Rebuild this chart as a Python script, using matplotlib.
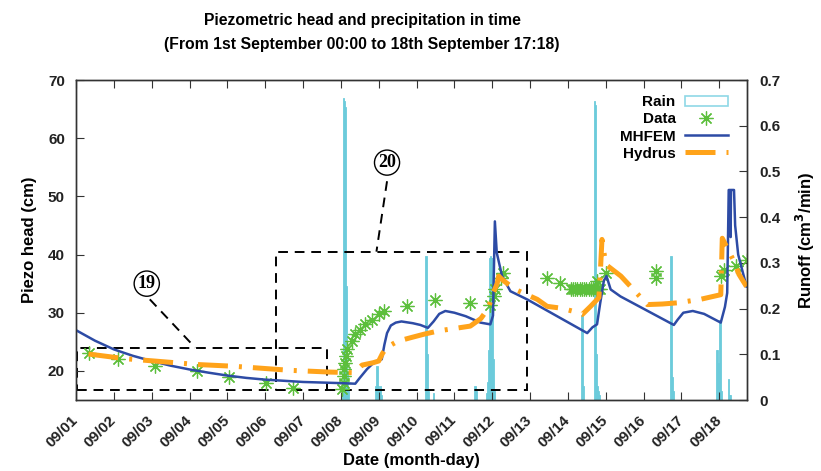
import matplotlib
matplotlib.use("Agg")
import matplotlib.pyplot as plt
from matplotlib.patches import Patch, Rectangle
from matplotlib.lines import Line2D

plt.rcParams['font.family'] = ['Liberation Sans', 'DejaVu Sans']
plt.rcParams['font.weight'] = 'bold'
plt.rcParams['axes.labelweight'] = 'bold'

# time axis: days since 1st September 00:00
day_ticks = list(range(0, 18))
day_labels = ['09/01', '09/02', '09/03', '09/04', '09/05', '09/06', '09/07',
              '09/08', '09/09', '09/10', '09/11', '09/12', '09/13', '09/14',
              '09/15', '09/16', '09/17', '09/18']
t_end = 17.72  # 18th September 17:18

# rain / runoff (cm3/min)
rain_t = [7.050, 7.075, 7.100, 7.125, 7.150, 7.175, 7.200,
          7.925, 7.950, 7.975, 8.025, 8.050, 8.075,
          9.250, 9.275, 9.300, 9.450,
          10.550, 10.575,
          10.850, 10.875, 10.900, 10.925, 10.950, 10.975, 11.000, 11.025, 11.050,
          13.375, 13.400,
          13.700, 13.725, 13.750, 13.775, 13.800, 13.825,
          15.725, 15.750, 15.775,
          16.925, 16.950, 16.975, 17.000, 17.025, 17.050, 17.250, 17.275, 17.300]
rain_v = [0.02, 0.66, 0.655, 0.64, 0.25, 0.06, 0.02,
          0.03, 0.075, 0.03, 0.02, 0.03, 0.01,
          0.315, 0.10, 0.02, 0.015,
          0.03, 0.02,
          0.015, 0.04, 0.11, 0.31, 0.315, 0.31, 0.31, 0.09, 0.02,
          0.185, 0.03,
          0.655, 0.645, 0.10, 0.03, 0.02, 0.01,
          0.315, 0.05, 0.02,
          0.11, 0.11, 0.08, 0.06, 0.175, 0.02, 0.045, 0.01, 0.01]

# measured piezometric head (cm)
data_t = [0.35, 1.12, 2.09, 3.21, 4.04, 5.03, 5.73,
          7.02, 7.07, 7.07, 7.08, 7.10, 7.13, 7.17, 7.29, 7.38, 7.51, 7.65,
          7.82, 8.00, 8.15, 8.75, 9.50, 10.42,
          10.95, 11.04, 11.08, 11.22, 11.28, 12.45, 12.78,
          13.07, 13.13, 13.19, 13.25, 13.31, 13.37, 13.43, 13.49, 13.55,
          13.61, 13.67, 13.73, 13.79, 13.86, 13.77, 14.00,
          15.32, 15.32, 17.04, 17.12, 17.43, 17.72]
data_h = [23.0, 22.1, 20.9, 20.0, 18.95, 18.0, 17.0,
          16.9, 18.0, 19.1, 20.3, 21.4, 22.6, 23.7, 25.1, 26.3, 27.1, 28.0,
          28.8, 29.7, 30.3, 31.1, 32.2, 31.7,
          31.3, 32.8, 34.0, 36.0, 36.8, 36.0, 35.1,
          34.1, 34.0, 34.1, 34.0, 34.1, 34.0, 34.1, 34.0, 34.1,
          34.0, 34.1, 34.0, 34.1, 34.0, 35.4, 36.8,
          37.1, 36.0, 36.3, 37.4, 38.0, 39.1]

# MHFEM simulation
mhfem_t = [0.0, 0.5, 1.0, 1.5, 2.0, 2.5, 3.0, 3.5, 4.0, 4.5, 5.0, 5.5, 6.0,
           6.5, 7.0, 7.38, 7.5, 7.69, 7.85, 7.98, 8.08, 8.15, 8.22, 8.32,
           8.45, 8.60, 8.9, 9.1, 9.30, 9.45, 9.6, 9.76, 10.0, 10.3, 10.69,
           10.95, 11.02, 11.07, 11.12, 11.26, 11.48, 11.92, 13.51, 13.65,
           13.77, 13.85, 13.95, 14.02, 14.13, 14.39, 15.80, 15.9, 16.05,
           16.3, 16.6, 17.04, 17.15, 17.21, 17.25, 17.29, 17.30, 17.31,
           17.39, 17.42, 17.5, 17.6, 17.72]
mhfem_h = [27.0, 25.2, 23.7, 22.6, 21.7, 20.9, 20.25, 19.7, 19.2, 18.8, 18.5,
           18.3, 18.1, 18.0, 17.9, 17.8, 18.8, 20.3, 21.3, 21.7, 22.0, 24.5,
           26.5, 27.8, 28.3, 28.5, 28.2, 27.9, 27.4, 28.5, 29.8, 30.3, 30.0,
           29.4, 28.3, 28.0, 29.5, 45.7, 40.3, 36.3, 33.7, 32.3, 26.5, 27.5,
           28.0, 31.5, 35.5, 36.3, 34.0, 32.8, 27.9, 28.8, 30.0, 30.3, 29.8,
           28.3, 31.0, 33.4, 51.1, 51.1, 43.0, 51.1, 51.1, 45.0, 40.0, 37.5,
           34.5]

# Hydrus simulation
hydrus_t = [0.33, 1.3, 2.07, 3.2, 4.17, 5.66, 6.7, 7.29, 7.45, 7.56, 7.85,
            8.0, 8.1, 8.2, 8.5, 8.84, 9.19, 9.6, 10.42, 10.7, 10.9, 11.0,
            11.13, 11.17, 11.3, 11.61, 12.19, 12.45, 12.8, 13.11, 13.38,
            13.6, 13.82, 13.85, 13.9, 14.0, 14.4, 15.1, 15.5, 15.89, 16.5,
            17.04, 17.08, 17.39, 17.52, 17.72]
hydrus_h = [22.9, 22.1, 21.7, 21.1, 20.8, 20.1, 19.8, 19.7, 20.3, 21.0, 21.4,
            21.7, 23.0, 24.0, 25.1, 25.7, 26.3, 26.9, 27.7, 29.0, 30.8, 33.0,
            35.0, 36.3, 35.5, 34.0, 32.3, 31.1, 30.8, 30.3, 29.7,
            31.1, 32.6, 36.0, 42.6, 38.3, 36.3, 31.4, 31.5, 31.7, 32.3,
            33.1, 42.8, 38.8, 36.6, 34.5]

c_rain = '#6ccbdb'
c_data = '#5cbf3c'
c_mhfem = '#2d4ba5'
c_hydrus = '#ffa31a'
c_axis = '#333333'
hydrus_dash = (0, (6, 2.2, 0.6, 2.2))

fig = plt.figure(figsize=(8.21, 4.71), dpi=100)
ax = fig.add_axes([76 / 821, 1 - 400 / 471, 670.5 / 821, 320 / 471])
ax2 = ax.twinx()
ax.set_zorder(ax2.get_zorder() + 1)
ax.patch.set_visible(False)

# rain on the right axis
ax2.bar(rain_t, rain_v, width=0.04, color=c_rain, edgecolor=c_rain,
        linewidth=0.6, align='center')
ax2.set_ylim(0, 0.7)
ax2.set_yticks([0, 0.1, 0.2, 0.3, 0.4, 0.5, 0.6, 0.7])
ax2.set_yticklabels(['0', '0.1', '0.2', '0.3', '0.4', '0.5', '0.6', '0.7'])
ax2.set_ylabel('Runoff (cm$^\\mathbf{3}$/min)', fontsize=12, labelpad=10)

ax.plot(data_t, data_h, linestyle='none', marker=(8, 2, 0), markersize=10,
        markeredgewidth=0.9, color=c_data)
ax.plot(mhfem_t, mhfem_h, color=c_mhfem, lw=1.8)
ax.plot(hydrus_t, hydrus_h, color=c_hydrus, lw=3.6, linestyle=hydrus_dash)

# zoomed regions
box_kw = dict(fill=False, edgecolor='black', lw=1.4, linestyle=(0, (5, 3.5)))
ax.add_patch(Rectangle((0.03, 16.7), 6.6, 7.3, **box_kw))
ax.add_patch(Rectangle((5.29, 16.7), 6.63, 23.8, **box_kw))
ax.plot([1.95, 3.15], [32.3, 24.0], color='black', lw=1.4,
        linestyle=(0, (5, 3.5)))
ax.plot([8.22, 7.94], [52.6, 40.5], color='black', lw=1.4,
        linestyle=(0, (5, 3.5)))
circ = dict(boxstyle='circle,pad=0.2', fc='white', ec='black', lw=1.0)
ax.text(1.87, 35.0, '19', ha='center', va='center', fontsize=13,
        family='Liberation Serif', weight='bold', bbox=circ)
ax.text(8.22, 55.8, '20', ha='center', va='center', fontsize=13,
        family='Liberation Serif', weight='bold', bbox=circ)

ax.set_xlim(0, t_end)
ax.set_ylim(15, 70)
ax.set_yticks([20, 30, 40, 50, 60, 70])
ax.set_xticks(day_ticks)
ax.set_xticklabels(day_labels, rotation=45, ha='right', va='center',
                   rotation_mode='anchor')
ax.set_ylabel('Piezo head (cm)', fontsize=12, labelpad=8)
ax.set_xlabel('Date (month-day)', fontsize=12, labelpad=2)

for a in (ax, ax2):
    for s in a.spines.values():
        s.set_color(c_axis)
        s.set_linewidth(1.0)
ax.tick_params(axis='x', direction='in', top=True, length=6, width=0.8,
               color=c_axis, labelsize=11, pad=13, labelcolor='#222222')
ax.tick_params(axis='y', direction='in', length=6, width=0.8, color=c_axis,
               labelsize=11, pad=8, labelcolor='#222222')
ax2.tick_params(axis='y', direction='in', length=6, width=0.8, color=c_axis,
                labelsize=11, pad=9, labelcolor='#222222')

handles = [Patch(facecolor='white', edgecolor='#8fd8e6', lw=1.2),
           Line2D([], [], linestyle='none', marker=(8, 2, 0), markersize=10,
                  markeredgewidth=0.9, color=c_data),
           Line2D([], [], color=c_mhfem, lw=1.8),
           Line2D([], [], color=c_hydrus, lw=3.6, linestyle=hydrus_dash)]
ax.legend(handles, ['Rain', 'Data', 'MHFEM', 'Hydrus'], loc='upper right',
          bbox_to_anchor=(0.99, 0.99), frameon=False, markerfirst=False,
          fontsize=11, handlelength=2.8, labelspacing=0.2, numpoints=1,
          handletextpad=0.6, borderpad=0.3)

fig.text(362 / 821, 1 - 20 / 471,
         'Piezometric head and precipitation in time', ha='center',
         va='center', fontsize=11.3)
fig.text(362 / 821, 1 - 45 / 471,
         '(From 1st September 00:00 to 18th September 17:18)', ha='center',
         va='center', fontsize=11.3)

fig.savefig('out.png', dpi=100)
